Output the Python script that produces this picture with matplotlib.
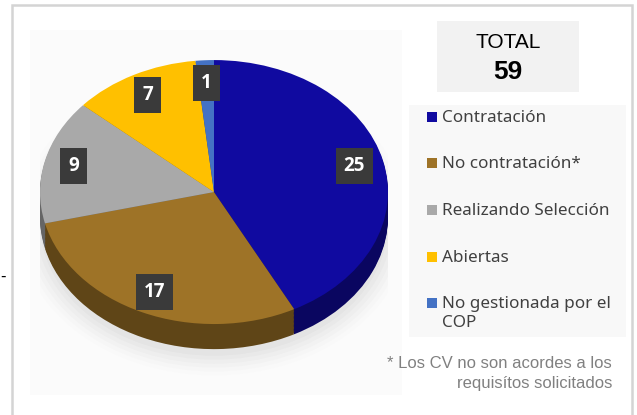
import matplotlib
matplotlib.use('Agg')
import matplotlib.pyplot as plt
from matplotlib.patches import Rectangle, Ellipse
import matplotlib.colors as mcolors
import numpy as np

# data
labels = ['Contratación', 'No contratación*', 'Realizando Selección', 'Abiertas',
          'No gestionada por el\nCOP']
values = [25, 17, 9, 7, 1]
total = sum(values)
top_colors = ['#100AA0', '#9E7327', '#A9A9A9', '#FFC000', '#4472C4']

W, H = 637, 415
fig = plt.figure(figsize=(W / 100, H / 100), dpi=100)
fig.patch.set_facecolor('white')

# outer frame
fig.patches.append(Rectangle((12 / W, -0.05), 620 / W, 1.05 - 5 / H, transform=fig.transFigure,
                             fill=False, edgecolor='#D4D4D4', linewidth=1.8, zorder=-5))
# faint background of the pie picture
fig.patches.append(Rectangle((30 / W, 1 - 395 / H), 372 / W, 365 / H, transform=fig.transFigure,
                             facecolor='#FBFBFB', edgecolor='none', zorder=-5))
fig.text(0.0, 1 - 276 / H, '-', fontsize=11, color='black', va='center')

# pie axes
ax = fig.add_axes([40 / W, 1 - 380 / H, 348 / W, 340 / H])
ax.axis('off')
ax.patch.set_alpha(0)

def darker(c, f):
    r, g, b = mcolors.to_rgb(c)
    return (r * f, g * f, b * f)

# soft shadow
for i, a in enumerate(np.linspace(0.12, 0.02, 6)):
    ax.add_patch(Ellipse((0.0, -0.24), 2.0 + 0.05 * i, 2.0 + 0.06 * i,
                         facecolor='#9A9A9A', edgecolor='none', alpha=a * 0.6, zorder=0))

# side of the pie (stacked darker copies)
side_colors = [darker(c, 0.6) for c in top_colors]
for d in np.linspace(0.19, 0.01, 19):
    ax.pie(values, colors=side_colors, startangle=90, counterclock=False,
           center=(0, -d), radius=1, wedgeprops=dict(edgecolor='none', zorder=1))

wedges, _, autotexts = ax.pie(
    values, colors=top_colors, startangle=90, counterclock=False, radius=1,
    autopct=lambda p: '%d' % round(p * total / 100), pctdistance=0.83,
    wedgeprops=dict(edgecolor='none', zorder=2),
    textprops=dict(color='white', fontsize=13.5, fontweight='bold', family='Open Sans'))
for t in autotexts:
    t.set_bbox(dict(boxstyle='square,pad=0.42', facecolor='#3A3A3A', edgecolor='none'))
    t.set_zorder(5)

ax.set_aspect('auto')
ax.set_xlim(-1, 1)
ax.set_ylim(-1.424, 1.152)

# TOTAL box
fig.patches.append(Rectangle((437 / W, 1 - 92 / H), 142 / W, 71 / H, transform=fig.transFigure,
                             facecolor='#F2F2F2', edgecolor='none', zorder=-4))
fig.text(508 / W, 1 - 42 / H, 'TOTAL', ha='center', va='center', fontsize=15,
         family='Liberation Sans', color='black')
fig.text(508 / W, 1 - 72 / H, str(total), ha='center', va='center', fontsize=19,
         fontweight='bold', family='Liberation Sans', color='black')

# legend
fig.patches.append(Rectangle((409 / W, 1 - 337 / H), 217 / W, 232 / H, transform=fig.transFigure,
                             facecolor='#F8F8F8', edgecolor='none', zorder=-4))
for i, (lab, c) in enumerate(zip(labels, top_colors)):
    y = 117 + 46.5 * i
    fig.patches.append(Rectangle((427 / W, 1 - (y + 5) / H), 10 / W, 10 / H,
                                 transform=fig.transFigure, facecolor=c, edgecolor='none'))
    fig.text(442 / W, 1 - (y - 7) / H, lab, ha='left', va='top', fontsize=12.3,
             family='Noto Sans', color='#404040', linespacing=1.25)

# footnote
fig.text(612 / W, 1 - 363 / H, '* Los CV no son acordes a los', ha='right', va='center',
         fontsize=12, family='Liberation Sans', color='#808080')
fig.text(612 / W, 1 - 383 / H, 'requisítos solicitados', ha='right', va='center',
         fontsize=12, family='Liberation Sans', color='#808080')

fig.savefig('out.png', dpi=100)
